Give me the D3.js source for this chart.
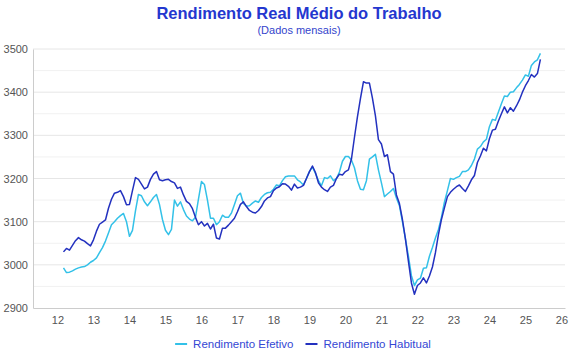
<!DOCTYPE html>
<html><head><meta charset="utf-8">
<script src="https://cdn.jsdelivr.net/npm/d3@7/dist/d3.min.js"></script>
<style>body{margin:0;background:#fff}svg{display:block}</style>
</head><body><svg id="chart" width="570" height="360"></svg>
<script>
// Monthly data, March 2012 to June 2025 (R$)
const startYear = 2012, startMonth = 3;
const efetivo = [
2993,2982,2983,2986,2990,2993,2995,2996,3000,3006,
3010,3016,3028,3040,3055,3074,3093,3100,3108,3114,3119,3100,
3066,3080,3125,3163,3160,3146,3137,3146,3156,3163,3140,3105,
3080,3070,3082,3150,3136,3146,3128,3113,3106,3102,3110,3152,
3193,3186,3150,3108,3108,3093,3100,3115,3110,3110,3120,3140,
3160,3166,3142,3136,3137,3143,3148,3145,3156,3163,3167,3168,
3175,3185,3183,3195,3204,3206,3206,3206,3197,3192,3185,3200,
3216,3227,3212,3195,3183,3202,3200,3206,3195,3200,3215,3240,
3251,3251,3243,3225,3195,3175,3174,3195,3245,3250,3256,3220,
3190,3158,3164,3170,3177,3155,3137,3100,3060,3020,2975,2952,
2965,2969,2992,2993,3020,3040,3062,3082,3110,3145,3172,3200,
3198,3202,3205,3216,3216,3220,3230,3245,3268,3274,3285,3291,
3320,3337,3335,3354,3373,3391,3390,3400,3401,3410,3418,3428,
3440,3437,3462,3470,3475,3490];
const habitual = [
3030,3038,3034,3045,3056,3063,3058,3055,3049,3044,
3058,3078,3094,3099,3104,3131,3152,3166,3168,3172,3158,3139,
3140,3172,3202,3198,3187,3176,3180,3198,3210,3216,3197,3195,
3197,3198,3193,3190,3177,3180,3162,3147,3142,3130,3110,3093,
3100,3090,3096,3083,3094,3062,3060,3085,3085,3092,3100,3108,
3123,3140,3146,3135,3126,3122,3120,3126,3135,3148,3155,3158,
3172,3178,3181,3188,3187,3182,3173,3187,3178,3180,3184,3200,
3216,3229,3214,3190,3180,3174,3170,3180,3184,3200,3210,3208,
3216,3220,3245,3295,3343,3385,3424,3421,3421,3386,3345,3290,
3280,3251,3255,3216,3210,3162,3142,3105,3060,3008,2958,2932,
2952,2958,2970,2958,2974,2995,3028,3070,3105,3132,3158,3168,
3175,3181,3185,3177,3170,3183,3197,3207,3237,3252,3270,3264,
3292,3312,3314,3333,3350,3366,3352,3364,3356,3368,3382,3400,
3415,3427,3441,3435,3443,3476];
const xTickLabels = [12,13,14,15,16,17,18,19,20,21,22,23,24,25,26];
const yTickLabels = [2900,3000,3100,3200,3300,3400,3500];
const yGridMinor = [2950,3050,3150,3250,3350,3450];
const seriesNames = ["Rendimento Efetivo","Rendimento Habitual"];
const seriesColors = ["#33c1e8","#2331bf"];

const font = "'Liberation Sans', Arial, Helvetica, sans-serif";
const svg = d3.select("#chart");
const L = 33, R = 565, T = 49, B = 308;

// time position in 2-digit decimal years
const t = i => (startYear - 2000) + (startMonth - 1 + i) / 12;
const x = d3.scaleLinear().domain([11.32, 26.1]).range([L, R]);
const y = d3.scaleLinear().domain([2900, 3500]).range([B, T]);

// grid
svg.append("g").selectAll("line").data(yGridMinor).join("line")
  .attr("x1", L).attr("x2", R).attr("y1", d => y(d)).attr("y2", d => y(d))
  .attr("stroke", "#f1f1f1").attr("stroke-width", 1);
svg.append("g").selectAll("line").data(yTickLabels.slice(1)).join("line")
  .attr("x1", L).attr("x2", R).attr("y1", d => y(d)).attr("y2", d => y(d))
  .attr("stroke", "#e6e6e6").attr("stroke-width", 1);

// axes
const yAxis = svg.append("g").attr("transform", `translate(${L},0)`)
  .call(d3.axisLeft(y).tickValues(yTickLabels).tickSize(0).tickPadding(5).tickFormat(d3.format("d")));
const xAxis = svg.append("g").attr("transform", `translate(0,${B})`)
  .call(d3.axisBottom(x).tickValues(xTickLabels).tickSize(0).tickPadding(8).tickFormat(d => d));
[yAxis, xAxis].forEach(a => {
  a.select(".domain").attr("stroke", "#cccccc");
  a.selectAll("text").attr("fill", "#555").style("font-family", font).style("font-size", "11px");
});

// lines
const line = d3.line().x((d, i) => x(t(i))).y(d => y(d));
[efetivo, habitual].forEach((s, k) => {
  svg.append("path").datum(s).attr("d", line)
    .attr("fill", "none").attr("stroke", seriesColors[k]).attr("stroke-width", 1.5)
    .attr("stroke-linejoin", "round");
});

// title
svg.append("text").attr("x", 299).attr("y", 19).attr("text-anchor", "middle")
  .style("font-family", font).style("font-size", "16.5px").style("font-weight", "bold")
  .attr("fill", "#2437cf").text("Rendimento Real Médio do Trabalho");
svg.append("text").attr("x", 299).attr("y", 34).attr("text-anchor", "middle")
  .style("font-family", font).style("font-size", "11px")
  .attr("fill", "#3344cc").text("(Dados mensais)");

// legend
const lg = svg.append("g");
const items = lg.selectAll("g").data(seriesNames).join("g");
items.append("line").attr("x1", 0).attr("x2", 12).attr("y1", 0).attr("y2", 0)
  .attr("stroke", (d, i) => seriesColors[i]).attr("stroke-width", 2);
items.append("text").attr("x", 18).attr("y", 4)
  .style("font-family", font).style("font-size", "11.5px")
  .attr("fill", "#3447d4").text(d => d);
let off = 0; const widths = [];
items.each(function () { widths.push(this.getBBox().width); });
items.attr("transform", (d, i) => { const tr = `translate(${off},0)`; off += widths[i] + 12; return tr; });
const total = off - 12;
lg.attr("transform", `translate(${303 - total / 2},344)`);
</script>
</body></html>
